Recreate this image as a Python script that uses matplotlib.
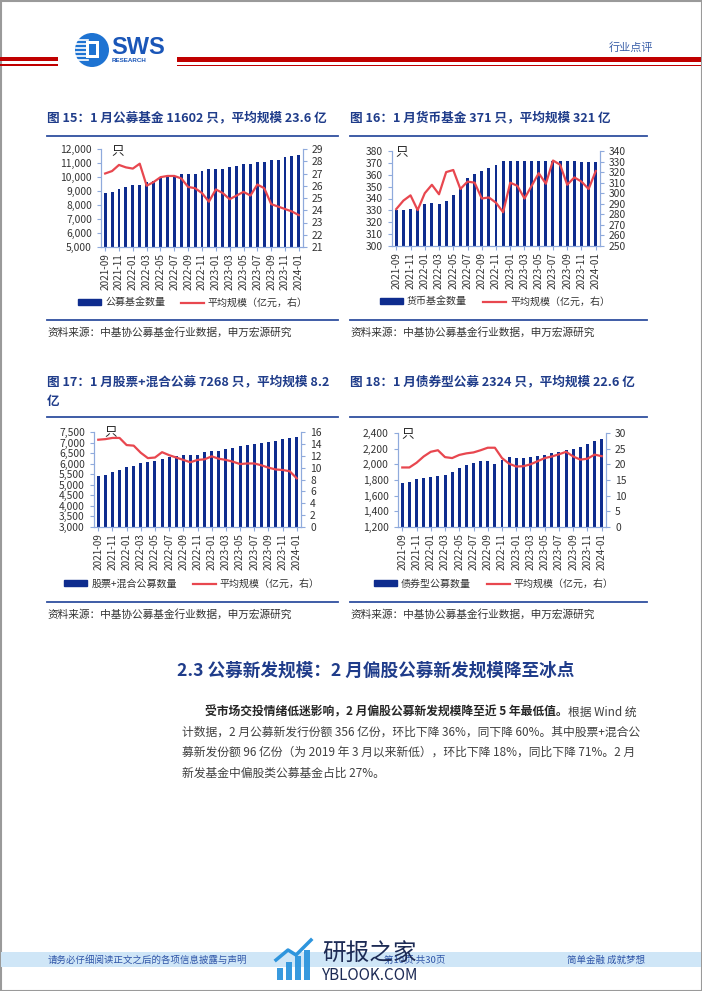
import numpy as np
import matplotlib
matplotlib.use("Agg")
import matplotlib.pyplot as plt
from matplotlib.patches import Patch, Circle, Rectangle
from matplotlib.lines import Line2D

plt.rcParams['font.family'] = ['Noto Sans CJK SC', 'DejaVu Sans']

W, H = 702, 991
NAVY = '#0E2C8E'
RED = '#E8474F'
BLUE_T = '#1F3C8A'
SPINE = '#8FAADC'
TXT = '#333333'

# ---------------- data ----------------
months = ['2021-09', '2021-10', '2021-11', '2021-12',
          '2022-01', '2022-02', '2022-03', '2022-04', '2022-05', '2022-06',
          '2022-07', '2022-08', '2022-09', '2022-10', '2022-11', '2022-12',
          '2023-01', '2023-02', '2023-03', '2023-04', '2023-05', '2023-06',
          '2023-07', '2023-08', '2023-09', '2023-10', '2023-11', '2023-12',
          '2024-01']

all_count = [8850, 8950, 9150, 9280, 9400, 9450, 9650, 9750, 9900, 10000,
             10050, 10200, 10250, 10250, 10400, 10550, 10580, 10600, 10700, 10800,
             10900, 10950, 11050, 11100, 11200, 11250, 11400, 11500, 11602]
all_avg = [27.0, 27.2, 27.7, 27.5, 27.4, 27.8, 26.0, 26.3, 26.7, 26.8,
           26.8, 26.6, 25.9, 25.8, 25.4, 24.7, 25.7, 25.4, 24.9, 25.2,
           25.5, 25.2, 26.1, 25.8, 24.5, 24.3, 24.1, 23.9, 23.6]

mm_count = [330, 330, 331, 332, 335, 336, 335, 338, 343, 350,
            357, 361, 363, 366, 368, 372, 372, 372, 372, 372,
            372, 372, 372, 372, 372, 372, 371, 371, 371]
mm_avg = [285, 293, 298, 284, 300, 308, 299, 320, 322, 304,
          311, 310, 295, 296, 291, 282, 310, 307, 295, 307,
          319, 309, 331, 327, 308, 315, 311, 304, 321]

eq_count = [5420, 5480, 5600, 5720, 5850, 5900, 6050, 6100, 6150, 6200,
            6300, 6350, 6400, 6400, 6420, 6530, 6580, 6600, 6700, 6750,
            6820, 6880, 6920, 6960, 7050, 7070, 7150, 7200, 7268]
eq_avg = [14.7, 14.8, 15.0, 15.0, 13.8, 13.7, 12.5, 11.6, 11.7, 12.6,
          12.1, 11.7, 11.3, 10.9, 11.3, 11.4, 11.9, 11.5, 11.3, 11.0,
          10.6, 10.7, 10.7, 10.4, 10.0, 9.7, 9.6, 9.4, 8.2]

bd_count = [1760, 1780, 1810, 1820, 1840, 1850, 1870, 1900, 1950, 1990,
            2020, 2040, 2040, 2010, 2060, 2090, 2080, 2080, 2090, 2110,
            2120, 2140, 2160, 2180, 2200, 2220, 2260, 2300, 2324]
bd_avg = [19.0, 19.0, 20.5, 22.5, 24.0, 24.5, 22.3, 22.0, 23.0, 23.5,
          23.8, 24.5, 25.3, 25.3, 22.0, 20.2, 19.3, 19.4, 20.0, 21.0,
          22.0, 22.5, 23.2, 24.0, 22.5, 21.5, 21.8, 23.1, 22.6]

fig = plt.figure(figsize=(W / 100, H / 100), dpi=100)
fig.patch.set_facecolor('white')

# background axes in pixel coordinates
bg = fig.add_axes([0, 0, 1, 1])
bg.set_xlim(0, W)
bg.set_ylim(H, 0)
bg.axis('off')


def axpx(x0, y0, x1, y1):
    return fig.add_axes([x0 / W, 1 - y1 / H, (x1 - x0) / W, (y1 - y0) / H])


def draw_chart(rect, counts, avg, lylim, lticks, rylim, rticks, bar_name, legend_xy):
    ax = axpx(*rect)
    x = np.arange(len(months))
    ax.bar(x, counts, width=0.42, color=NAVY, zorder=2)
    ax.set_xlim(-0.6, len(months) - 0.4)
    ax.set_ylim(lylim)
    ax.set_yticks(lticks)
    ax.set_yticklabels([f'{v:,}' for v in lticks])
    ax.set_xticks(x[::2])
    ax.set_xticklabels(months[::2], rotation=90)
    ax2 = ax.twinx()
    ax2.plot(x, avg, color=RED, lw=1.6)
    ax2.set_ylim(rylim)
    ax2.set_yticks(rticks)
    for a in (ax, ax2):
        a.spines['top'].set_visible(False)
        for s in ('left', 'right', 'bottom'):
            a.spines[s].set_color(SPINE)
            a.spines[s].set_linewidth(0.8)
        a.tick_params(colors=SPINE, labelcolor=TXT, labelsize=7.4, length=3, width=0.8)
        a.set_facecolor('none')
    ax.tick_params(axis='x', labelsize=7.2, pad=1.5)
    handles = [Patch(color=NAVY), Line2D([], [], color=RED, lw=1.6)]
    ax.legend(handles, [bar_name, '平均规模（亿元，右）'], loc='center',
              bbox_to_anchor=(legend_xy[0] / W, 1 - legend_xy[1] / H),
              bbox_transform=fig.transFigure, ncol=2, frameon=False,
              fontsize=7.2, handlelength=2.3, handleheight=0.55,
              columnspacing=1.6, handletextpad=0.4, labelcolor=TXT)
    return ax


# ---------------- page header ----------------
bg.add_patch(Rectangle((0.5, 0.5), W - 1, H - 1, fill=False, ec='#9a9a9a', lw=1.5))
bg.add_patch(Rectangle((0, 57), 58, 4, color='#C00000', lw=0))
bg.add_patch(Rectangle((0, 64), 58, 1.6, color='#C00000', lw=0))
bg.add_patch(Rectangle((177, 57), W - 178, 4.5, color='#C00000', lw=0))
bg.add_patch(Rectangle((177, 64.5), W - 178, 1.6, color='#C00000', lw=0))
bg.add_patch(Circle((92, 50), 17, color='#1E73D2', lw=0))
for yy in [40, 44, 48, 52, 56, 60]:
    bg.plot([76, 88], [yy, yy], color='white', lw=1.2)
bg.add_patch(Rectangle((86, 41), 13, 17, color='white', lw=0))
bg.add_patch(Rectangle((89, 44), 7, 11, color='#1E73D2', lw=0))
bg.text(111, 47, 'SWS', fontsize=17, weight='bold', color='#1A56B8', va='center',
        family=['Liberation Sans', 'DejaVu Sans'])
bg.text(112, 61, 'RESEARCH', fontsize=4.5, weight='bold', color='#1A56B8', va='center',
        family=['Liberation Sans', 'DejaVu Sans'])
bg.text(609, 48, '行业点评', fontsize=8, color='#3A5FA8', va='center')

# ---------------- chart titles and rules ----------------
title_kw = dict(fontsize=9.1, weight='bold', color=BLUE_T, va='center')
bg.text(47, 118, '图 15：1 月公募基金 11602 只，平均规模 23.6 亿', **title_kw)
bg.text(350, 118, '图 16：1 月货币基金 371 只，平均规模 321 亿', **title_kw)
bg.text(47, 382, '图 17：1 月股票+混合公募 7268 只，平均规模 8.2', **title_kw)
bg.text(47, 401, '亿', **title_kw)
bg.text(350, 382, '图 18：1 月债券型公募 2324 只，平均规模 22.6 亿', **title_kw)

for (x0, x1) in [(47, 338), (350, 647)]:
    for yy in (136, 320, 417, 602):
        bg.plot([x0, x1], [yy, yy], color='#2F4F9F', lw=1.3)

src = '资料来源：中基协公募基金行业数据，申万宏源研究'
for (xx, yy) in [(47, 332), (350, 332), (47, 614), (350, 614)]:
    bg.text(xx, yy, src, fontsize=7.7, color=TXT, va='center')

# ---------------- charts ----------------
draw_chart((101, 149, 303, 247), all_count, all_avg, (5000, 12000),
           list(range(5000, 12001, 1000)), (21, 29), list(range(21, 30)),
           '公募基金数量', (193, 303))
draw_chart((392, 151, 600, 246), mm_count, mm_avg, (300, 380),
           list(range(300, 381, 10)), (250, 340), list(range(250, 341, 10)),
           '货币基金数量', (495, 302))
draw_chart((94, 432, 301, 527), eq_count, eq_avg, (3000, 7500),
           list(range(3000, 7501, 500)), (0, 16), list(range(0, 17, 2)),
           '股票+混合公募数量', (192, 584))
draw_chart((398, 433, 606, 527), bd_count, bd_avg, (1200, 2400),
           list(range(1200, 2401, 200)), (0, 30), list(range(0, 31, 5)),
           '债券型公募数量', (494, 584))

for (xx, yy) in [(118, 152), (402, 153), (111, 433), (408, 435)]:
    bg.text(xx, yy, '只', fontsize=9, color='#222222', va='center', ha='center', zorder=5)

# ---------------- section text ----------------
bg.text(177, 671, '2.3 公募新发规模：2 月偏股公募新发规模降至冰点',
        fontsize=12.7, weight='bold', color=BLUE_T, va='center')

para_kw = dict(fontsize=8.5, color='#404040', va='center')
t1 = bg.text(205, 712, '受市场交投情绪低迷影响，2 月偏股公募新发规模降至近 5 年最低值。',
             fontsize=8.5, weight='bold', color='#262626', va='center')
bg.annotate('根据 Wind 统', xy=(1, 0.5), xycoords=t1, ha='left', va='center',
            fontsize=8.5, color='#404040')
bg.text(182, 732, '计数据，2 月公募新发行份额 356 亿份，环比下降 36%，同下降 60%。其中股票+混合公', **para_kw)
bg.text(182, 752, '募新发份额 96 亿份（为 2019 年 3 月以来新低），环比下降 18%，同比下降 71%。2 月', **para_kw)
bg.text(182, 773, '新发基金中偏股类公募基金占比 27%。', **para_kw)

# ---------------- footer ----------------
bg.add_patch(Rectangle((1, 952), W - 2, 15, color='#CFE6F7', lw=0))
bg.text(48, 960, '请务必仔细阅读正文之后的各项信息披露与声明', fontsize=6.8, color='#2F55A8', va='center')
bg.text(567, 960, '简单金融 成就梦想', fontsize=6.8, color='#2F55A8', va='center')
bg.text(384, 960, '第10页 共30页', fontsize=6.8, color='#2F55A8', va='center')

# watermark
for i, hh in enumerate([12, 18, 24, 30]):
    bg.add_patch(Rectangle((277 + i * 9, 980 - hh), 6, hh, color='#2E95DD', lw=0, alpha=0.95))
bg.plot([276, 288, 296, 311], [960, 950, 955, 940], color='#2E95DD', lw=2.5)
bg.text(322, 953, '研报之家', fontsize=17, color='#1D2B55', va='center')
bg.text(322, 976, 'YBLOOK.COM', fontsize=11, color='#1D2B55', va='center')

fig.savefig('out.png', dpi=100)
